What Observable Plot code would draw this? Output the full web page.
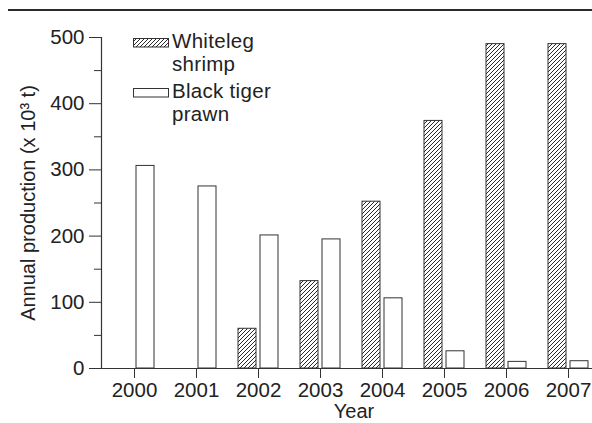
<!DOCTYPE html>
<html>
<head>
<meta charset="utf-8">
<script src="https://cdn.jsdelivr.net/npm/d3@7"></script>
<script src="https://cdn.jsdelivr.net/npm/@observablehq/plot@0.6"></script>
<style>
  html, body { margin: 0; padding: 0; background: #fff; }
  body { width: 592px; height: 423px; position: relative; overflow: hidden;
         font-family: "Liberation Sans", Arial, sans-serif; color: #222; }
  #chart { position: absolute; left: 0; top: 0; }
  #topline { position: absolute; left: 8px; top: 9px; width: 584px; height: 2px; background: #2b2b2b; }
  #legend { position: absolute; left: 133px; top: 28.6px; font-size: 20.5px; line-height: 23px; letter-spacing: 0.3px; }
  .entry { position: relative; padding-left: 39px; margin-bottom: 4px; }
  .entry svg { position: absolute; left: 0; }
</style>
</head>
<body>
<div id="chart"></div>
<div id="topline"></div>
<div id="legend"></div>
<script>
const years = ["2000", "2001", "2002", "2003", "2004", "2005", "2006", "2007"];
const whiteleg = [0, 0, 60, 132, 252, 374, 490, 490];
const blackTiger = [306, 275, 201, 195, 106, 26, 10, 11];
const seriesNames = ["Whiteleg\nshrimp", "Black tiger\nprawn"];
const yMajor = [0, 100, 200, 300, 400, 500];
const yMinor = [50, 150, 250, 350, 450];

const ink = "#333";
const wlData = years.map((year, i) => ({year, value: whiteleg[i]}));
const btData = years.map((year, i) => ({year, value: blackTiger[i]}));

const NS = "http://www.w3.org/2000/svg";
function hatchDefs(id) {
  const g = document.createElementNS(NS, "g");
  const defs = document.createElementNS(NS, "defs");
  const pat = document.createElementNS(NS, "pattern");
  pat.setAttribute("id", id);
  pat.setAttribute("patternUnits", "userSpaceOnUse");
  pat.setAttribute("width", "4");
  pat.setAttribute("height", "4");
  const bg = document.createElementNS(NS, "rect");
  bg.setAttribute("width", "4"); bg.setAttribute("height", "4"); bg.setAttribute("fill", "#fff");
  const p = document.createElementNS(NS, "path");
  p.setAttribute("d", "M-1,1 l2,-2 M0,4 l4,-4 M3,5 l2,-2");
  p.setAttribute("stroke", "#2a2a2a");
  p.setAttribute("stroke-width", "1");
  pat.appendChild(bg); pat.appendChild(p);
  defs.appendChild(pat); g.appendChild(defs);
  return g;
}

const chart = Plot.plot({
  width: 592,
  height: 423,
  marginLeft: 101,
  marginRight: 0,
  marginTop: 37,
  marginBottom: 55,
  style: {fontFamily: '"Liberation Sans", Arial, sans-serif', fontSize: "20px", color: "#222", background: "#fff"},
  x: {type: "band", domain: years, paddingInner: 0.356, paddingOuter: 0.128, align: 0.75, axis: null},
  y: {domain: [0, 500], axis: null},
  marks: [
    () => hatchDefs("hatch"),
    Plot.barY(wlData, {x: "year", y: "value", insetRight: 22, fill: "url(#hatch)", stroke: ink, strokeWidth: 1}),
    Plot.barY(btData, {x: "year", y: "value", insetLeft: 22, fill: "#fff", stroke: ink, strokeWidth: 1}),
    Plot.ruleY([0], {stroke: ink, strokeWidth: 1.2}),
    Plot.frame({anchor: "left", stroke: ink, strokeWidth: 1.2}),
    Plot.axisY({ticks: yMajor, tickSize: 12, tickPadding: 5, label: null, stroke: ink, fill: "#222", fontSize: 20.5}),
    Plot.axisY({ticks: yMinor, tickSize: 7, text: null, label: null, stroke: ink}),
    Plot.axisX({tickSize: 10, tickPadding: 4, label: null, stroke: ink, fill: "#222", fontSize: 20.5}),
    Plot.text(["Year"], {frameAnchor: "bottom", dx: 7, dy: 43, textAnchor: "middle", lineAnchor: "middle", fontSize: 20, fill: "#222"}),
    Plot.text(["Annual production (x 10³ t)"], {frameAnchor: "left", dx: -73, rotate: -90, textAnchor: "middle", lineAnchor: "middle", fontSize: 20, fill: "#222"})
  ]
});
document.getElementById("chart").appendChild(chart);

// Legend
const legend = document.getElementById("legend");
seriesNames.forEach((name, i) => {
  const div = document.createElement("div");
  div.className = "entry";
  const sw = document.createElementNS(NS, "svg");
  sw.setAttribute("width", "36"); sw.setAttribute("height", "10");
  sw.style.top = "9px";
  if (i === 0) sw.appendChild(hatchDefs("hatchLegend"));
  const r = document.createElementNS(NS, "rect");
  r.setAttribute("x", "0.5"); r.setAttribute("y", "0.5");
  r.setAttribute("width", "35"); r.setAttribute("height", "8.5");
  r.setAttribute("fill", i === 0 ? "url(#hatchLegend)" : "#fff");
  r.setAttribute("stroke", ink);
  sw.appendChild(r);
  div.appendChild(sw);
  name.split("\n").forEach((line, j) => {
    if (j > 0) div.appendChild(document.createElement("br"));
    div.appendChild(document.createTextNode(line));
  });
  legend.appendChild(div);
});
</script>
</body>
</html>
